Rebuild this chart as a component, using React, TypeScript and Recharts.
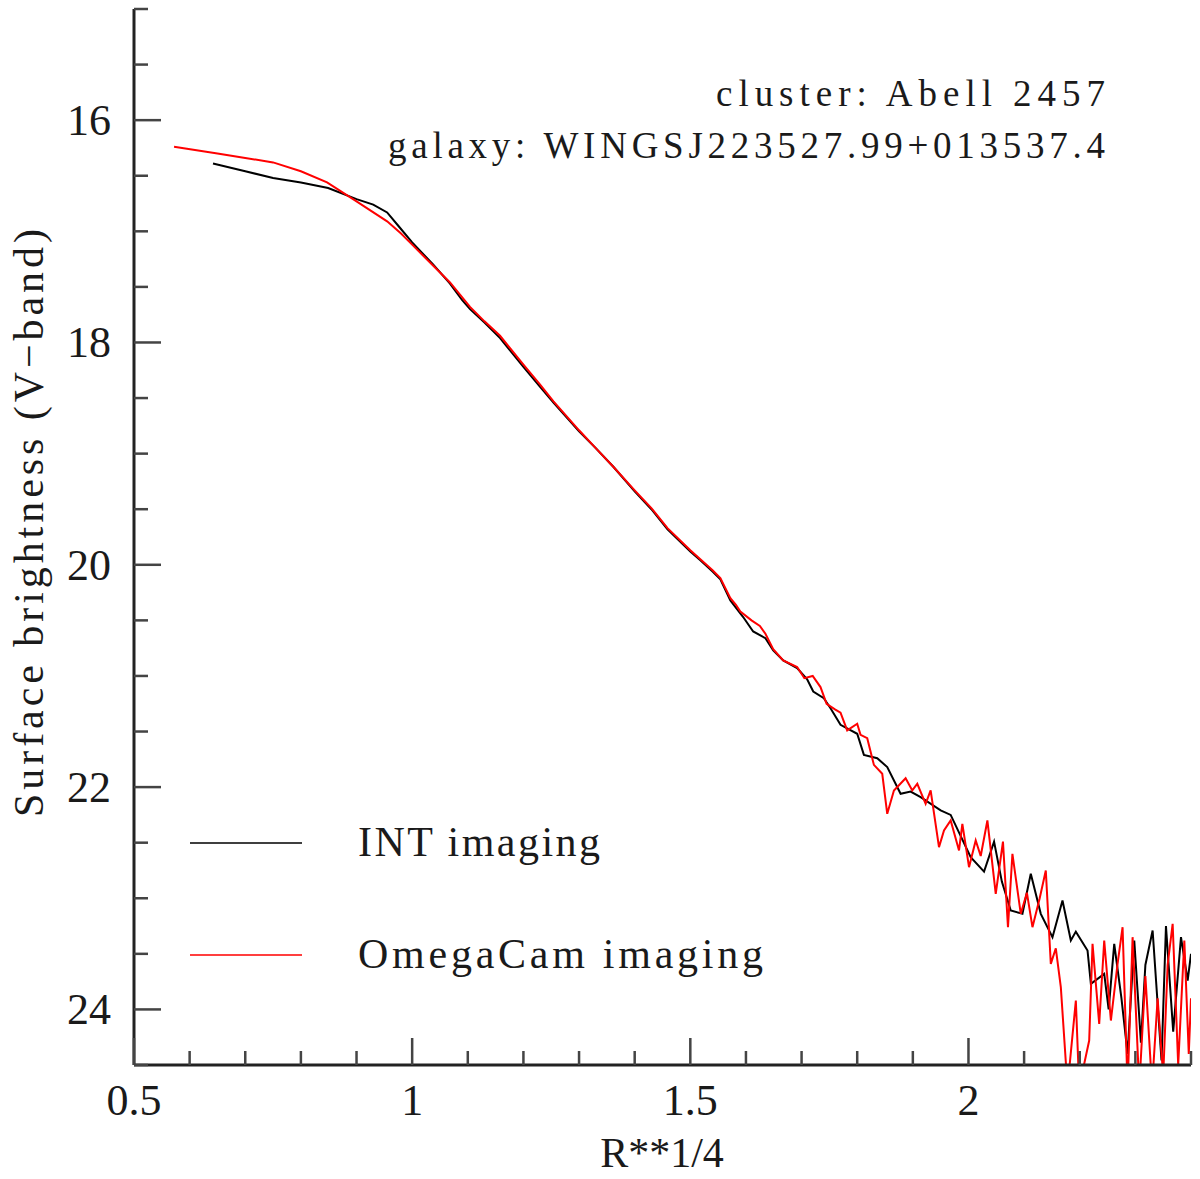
import React from 'react';
import { LineChart, Line, XAxis, YAxis, Customized } from 'recharts';

// ---- data ----
const intR = [0.642, 0.7, 0.75, 0.8, 0.849, 0.9, 0.93, 0.955, 0.975, 1.0, 1.038, 1.068, 1.09, 1.104, 1.13, 1.158, 1.2, 1.23, 1.254, 1.3, 1.33, 1.362, 1.4, 1.43, 1.459, 1.5, 1.518, 1.54, 1.554, 1.572, 1.595, 1.613, 1.635, 1.649, 1.667, 1.692, 1.71, 1.721, 1.74, 1.752, 1.77, 1.8, 1.812, 1.836, 1.854, 1.878, 1.896, 1.914, 1.95, 1.968, 2.004, 2.028, 2.046, 2.06, 2.076, 2.097, 2.112, 2.13, 2.151, 2.169, 2.184, 2.193, 2.214, 2.22, 2.244, 2.252, 2.262, 2.275, 2.286, 2.298, 2.31, 2.318, 2.331, 2.347, 2.355, 2.368, 2.382, 2.394, 2.4];
const intMu = [16.39, 16.46, 16.52, 16.56, 16.61, 16.71, 16.76, 16.83, 16.95, 17.1, 17.3, 17.47, 17.62, 17.7, 17.82, 17.96, 18.22, 18.4, 18.54, 18.8, 18.95, 19.12, 19.34, 19.5, 19.68, 19.88, 19.96, 20.06, 20.13, 20.32, 20.47, 20.6, 20.66, 20.77, 20.86, 20.93, 21.03, 21.14, 21.2, 21.29, 21.44, 21.52, 21.71, 21.74, 21.82, 22.06, 22.04, 22.09, 22.21, 22.25, 22.63, 22.76, 22.49, 22.85, 23.11, 23.14, 22.78, 23.14, 23.35, 23.02, 23.38, 23.3, 23.47, 23.77, 23.68, 24.0, 23.41, 23.9, 24.4, 23.38, 24.3, 23.6, 23.29, 24.46, 23.25, 24.2, 23.35, 23.74, 23.5];

const omegaR = [0.572, 0.65, 0.7, 0.75, 0.8, 0.847, 0.9, 0.955, 0.98, 1.0, 1.038, 1.068, 1.104, 1.13, 1.158, 1.2, 1.23, 1.254, 1.3, 1.33, 1.362, 1.4, 1.43, 1.459, 1.5, 1.518, 1.54, 1.554, 1.572, 1.582, 1.59, 1.61, 1.625, 1.635, 1.649, 1.667, 1.692, 1.705, 1.72, 1.734, 1.745, 1.76, 1.77, 1.782, 1.8, 1.806, 1.818, 1.83, 1.845, 1.854, 1.866, 1.887, 1.899, 1.908, 1.923, 1.932, 1.947, 1.956, 1.968, 1.983, 1.989, 2.001, 2.013, 2.022, 2.034, 2.049, 2.062, 2.071, 2.079, 2.094, 2.105, 2.115, 2.128, 2.139, 2.148, 2.157, 2.166, 2.178, 2.193, 2.199, 2.217, 2.223, 2.235, 2.244, 2.256, 2.268, 2.277, 2.286, 2.295, 2.307, 2.318, 2.33, 2.34, 2.35, 2.358, 2.367, 2.377, 2.388, 2.396, 2.4];
const omegaMu = [16.24, 16.3, 16.34, 16.38, 16.46, 16.56, 16.73, 16.91, 17.02, 17.12, 17.31, 17.46, 17.68, 17.81, 17.94, 18.2, 18.38, 18.53, 18.79, 18.95, 19.12, 19.33, 19.49, 19.67, 19.87, 19.95, 20.05, 20.12, 20.3, 20.36, 20.42, 20.5, 20.55, 20.62, 20.76, 20.86, 20.92, 21.02, 21.0, 21.1, 21.25, 21.3, 21.33, 21.49, 21.43, 21.53, 21.56, 21.8, 21.88, 22.24, 22.03, 21.92, 22.03, 21.97, 22.15, 22.03, 22.54, 22.39, 22.3, 22.57, 22.33, 22.72, 22.48, 22.62, 22.3, 22.96, 22.49, 23.26, 22.6, 23.14, 22.95, 23.26, 23.0, 22.75, 23.59, 23.45, 23.8, 24.7, 23.92, 24.7, 24.28, 23.41, 24.13, 23.38, 24.1, 23.59, 23.26, 24.7, 23.35, 24.7, 23.7, 24.7, 23.9, 24.6, 23.6, 23.23, 24.5, 23.38, 24.4, 23.9];

const xTicks = [0.5, 0.6, 0.7, 0.8, 0.9, 1.0, 1.1, 1.2, 1.3, 1.4, 1.5, 1.6, 1.7, 1.8, 1.9, 2.0, 2.1, 2.2, 2.3, 2.4];
const xMajorTicks = [0.5, 1, 1.5, 2];
const yTicks = [15, 15.5, 16, 16.5, 17, 17.5, 18, 18.5, 19, 19.5, 20, 20.5, 21, 21.5, 22, 22.5, 23, 23.5, 24, 24.5];
const yMajorTicks = [16, 18, 20, 22, 24];

const seriesNames = ['INT imaging', 'OmegaCam imaging'];
const seriesColors = ['#000000', '#ff0000'];
const annotationLines = ['cluster: Abell 2457', 'galaxy: WINGSJ223527.99+013537.4'];
const xTitle = 'R**1/4';
const yTitle = 'Surface brightness (V\u2212band)';

const intData = intR.map((r, i) => ({ r, mu: intMu[i] }));
const omegaData = omegaR.map((r, i) => ({ r, mu: omegaMu[i] }));

// ---- styling ----
const FONT = '"Liberation Serif", "DejaVu Serif", serif';
const AXIS_COLOR = '#222';
const TICK_COLOR = '#444';
const TEXT_COLOR = '#1a1a1a';

const isMajor = (v: number, list: number[]) => list.some((m) => Math.abs(m - v) < 1e-6);

function makeTick(side: 'left' | 'right' | 'top' | 'bottom', major: number[], labels: boolean) {
  return (props: any) => {
    const { x, y, payload } = props;
    const v = payload.value as number;
    const mj = isMajor(v, major);
    const len = mj ? 27 : 14;
    let x2 = x;
    let y2 = y;
    if (side === 'left') x2 = x + len;
    else if (side === 'right') x2 = x - len;
    else if (side === 'top') y2 = y + len;
    else y2 = y - len;
    return (
      <g>
        <line x1={x} y1={y} x2={x2} y2={y2} stroke={TICK_COLOR} strokeWidth={2.5} />
        {labels && mj && side === 'left' && (
          <text x={x - 23} y={y + 15} textAnchor="end" fontFamily={FONT} fontSize={44} fill={TEXT_COLOR}>
            {String(v)}
          </text>
        )}
        {labels && mj && side === 'bottom' && (
          <text x={x} y={y + 50} textAnchor="middle" fontFamily={FONT} fontSize={44} fill={TEXT_COLOR}>
            {String(v)}
          </text>
        )}
      </g>
    );
  };
}

const Overlay = () => (
  <g fontFamily={FONT} fill={TEXT_COLOR}>
    {/* annotations */}
    <text x={716} y={106} fontSize={37} textLength={389} lengthAdjust="spacing">
      {annotationLines[0]}
    </text>
    <text x={388} y={158} fontSize={37} textLength={717} lengthAdjust="spacing">
      {annotationLines[1]}
    </text>
    {/* legend */}
    <line x1={190} y1={843} x2={302} y2={843} stroke={seriesColors[0]} strokeWidth={2} opacity={0.75} />
    <text x={358} y={856} fontSize={42} textLength={242} lengthAdjust="spacing">
      {seriesNames[0]}
    </text>
    <line x1={190} y1={955} x2={302} y2={955} stroke={seriesColors[1]} strokeWidth={2} opacity={0.75} />
    <text x={358} y={968} fontSize={42} textLength={405} lengthAdjust="spacing">
      {seriesNames[1]}
    </text>
    {/* axis titles */}
    <text x={662} y={1167} fontSize={42} textAnchor="middle">
      {xTitle}
    </text>
    <text
      x={0}
      y={0}
      fontSize={42}
      textLength={588}
      lengthAdjust="spacing"
      transform="translate(43, 817) rotate(-90)"
    >
      {yTitle}
    </text>
  </g>
);

export default function App() {
  return (
    <div style={{ position: 'absolute', left: 0, top: 0, width: 1200, height: 1179, background: '#fff' }}>
      <LineChart width={1200} height={1179} margin={{ top: 9, right: 9, bottom: 0, left: 0 }}>
        <XAxis
          xAxisId="b"
          dataKey="r"
          type="number"
          domain={[0.5, 2.4]}
          ticks={xTicks}
          interval={0}
          allowDataOverflow
          orientation="bottom"
          height={114}
          tickSize={0}
          tickMargin={0}
          tickLine={false}
          axisLine={{ stroke: AXIS_COLOR, strokeWidth: 3 }}
          tick={makeTick('bottom', xMajorTicks, true)}
        />
        <XAxis
          xAxisId="t"
          dataKey="r"
          type="number"
          domain={[0.5, 2.4]}
          ticks={xTicks}
          interval={0}
          allowDataOverflow
          orientation="top"
          height={0}
          tickSize={0}
          tickMargin={0}
          tickLine={false}
          axisLine={{ stroke: AXIS_COLOR, strokeWidth: 3 }}
          tick={makeTick('top', xMajorTicks, false)}
        />
        <YAxis
          yAxisId="l"
          dataKey="mu"
          type="number"
          domain={[15, 24.5]}
          reversed
          ticks={yTicks}
          interval={0}
          allowDataOverflow
          orientation="left"
          width={134}
          tickSize={0}
          tickMargin={0}
          tickLine={false}
          axisLine={{ stroke: AXIS_COLOR, strokeWidth: 3 }}
          tick={makeTick('left', yMajorTicks, true)}
        />
        <YAxis
          yAxisId="r"
          dataKey="mu"
          type="number"
          domain={[15, 24.5]}
          reversed
          ticks={yTicks}
          interval={0}
          allowDataOverflow
          orientation="right"
          width={0}
          tickSize={0}
          tickMargin={0}
          tickLine={false}
          axisLine={{ stroke: AXIS_COLOR, strokeWidth: 3 }}
          tick={makeTick('right', yMajorTicks, false)}
        />
        <Line
          xAxisId="b"
          yAxisId="l"
          data={intData}
          dataKey="mu"
          name={seriesNames[0]}
          type="linear"
          stroke={seriesColors[0]}
          strokeWidth={2}
          dot={false}
          isAnimationActive={false}
        />
        <Line
          xAxisId="b"
          yAxisId="l"
          data={omegaData}
          dataKey="mu"
          name={seriesNames[1]}
          type="linear"
          stroke={seriesColors[1]}
          strokeWidth={2}
          dot={false}
          isAnimationActive={false}
        />
        <Customized component={Overlay} />
      </LineChart>
    </div>
  );
}
